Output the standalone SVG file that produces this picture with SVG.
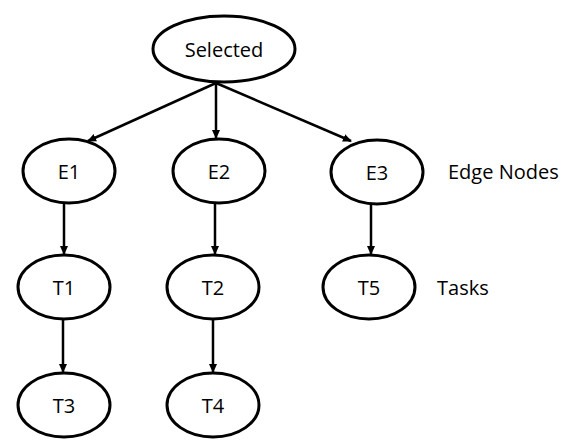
<svg xmlns="http://www.w3.org/2000/svg" width="565" height="448" viewBox="0 0 565 448">
<style>
.n ellipse{fill:#fff;stroke:#000;stroke-width:3}
text{font-family:"Open Sans","Liberation Sans",sans-serif;font-size:20px;fill:#000}
.n text{text-anchor:middle}
.e line{stroke:#000;stroke-width:2.5;marker-end:url(#ah)}
</style>
<defs>
<marker id="ah" markerWidth="10" markerHeight="10" refX="8" refY="4" orient="auto" markerUnits="userSpaceOnUse">
<path d="M0,0 L9,4 L0,8 Z" fill="#000"/>
</marker>
</defs>
<g class="e">
<line x1="216" y1="83" x2="88" y2="141"/>
<line x1="216" y1="83" x2="216" y2="138"/>
<line x1="216" y1="83" x2="351" y2="141"/>
<line x1="64" y1="203" x2="64" y2="254"/>
<line x1="215" y1="203" x2="215" y2="254"/>
<line x1="371" y1="204" x2="371" y2="254"/>
<line x1="63" y1="319" x2="63" y2="372"/>
<line x1="213" y1="319" x2="213" y2="372"/>
</g>
<g id="selected" class="n"><ellipse cx="224" cy="49" rx="71" ry="33"/><text x="224" y="57">Selected</text></g>
<g id="e1" class="n"><ellipse cx="69" cy="171" rx="46" ry="32"/><text x="69" y="179">E1</text></g>
<g id="e2" class="n"><ellipse cx="219" cy="171" rx="46" ry="32"/><text x="219" y="179">E2</text></g>
<g id="e3" class="n"><ellipse cx="377" cy="172" rx="46" ry="32"/><text x="377" y="180">E3</text></g>
<g id="t1" class="n"><ellipse cx="64" cy="287" rx="46" ry="32"/><text x="64" y="295">T1</text></g>
<g id="t2" class="n"><ellipse cx="213" cy="287" rx="46" ry="32"/><text x="213" y="295">T2</text></g>
<g id="t5" class="n"><ellipse cx="369" cy="287" rx="46" ry="32"/><text x="369" y="295">T5</text></g>
<g id="t3" class="n"><ellipse cx="64" cy="405" rx="46" ry="32"/><text x="64" y="413">T3</text></g>
<g id="t4" class="n"><ellipse cx="213" cy="405" rx="46" ry="32"/><text x="213" y="413">T4</text></g>
<text x="448" y="179">Edge Nodes</text>
<text x="437" y="295">Tasks</text>
</svg>
